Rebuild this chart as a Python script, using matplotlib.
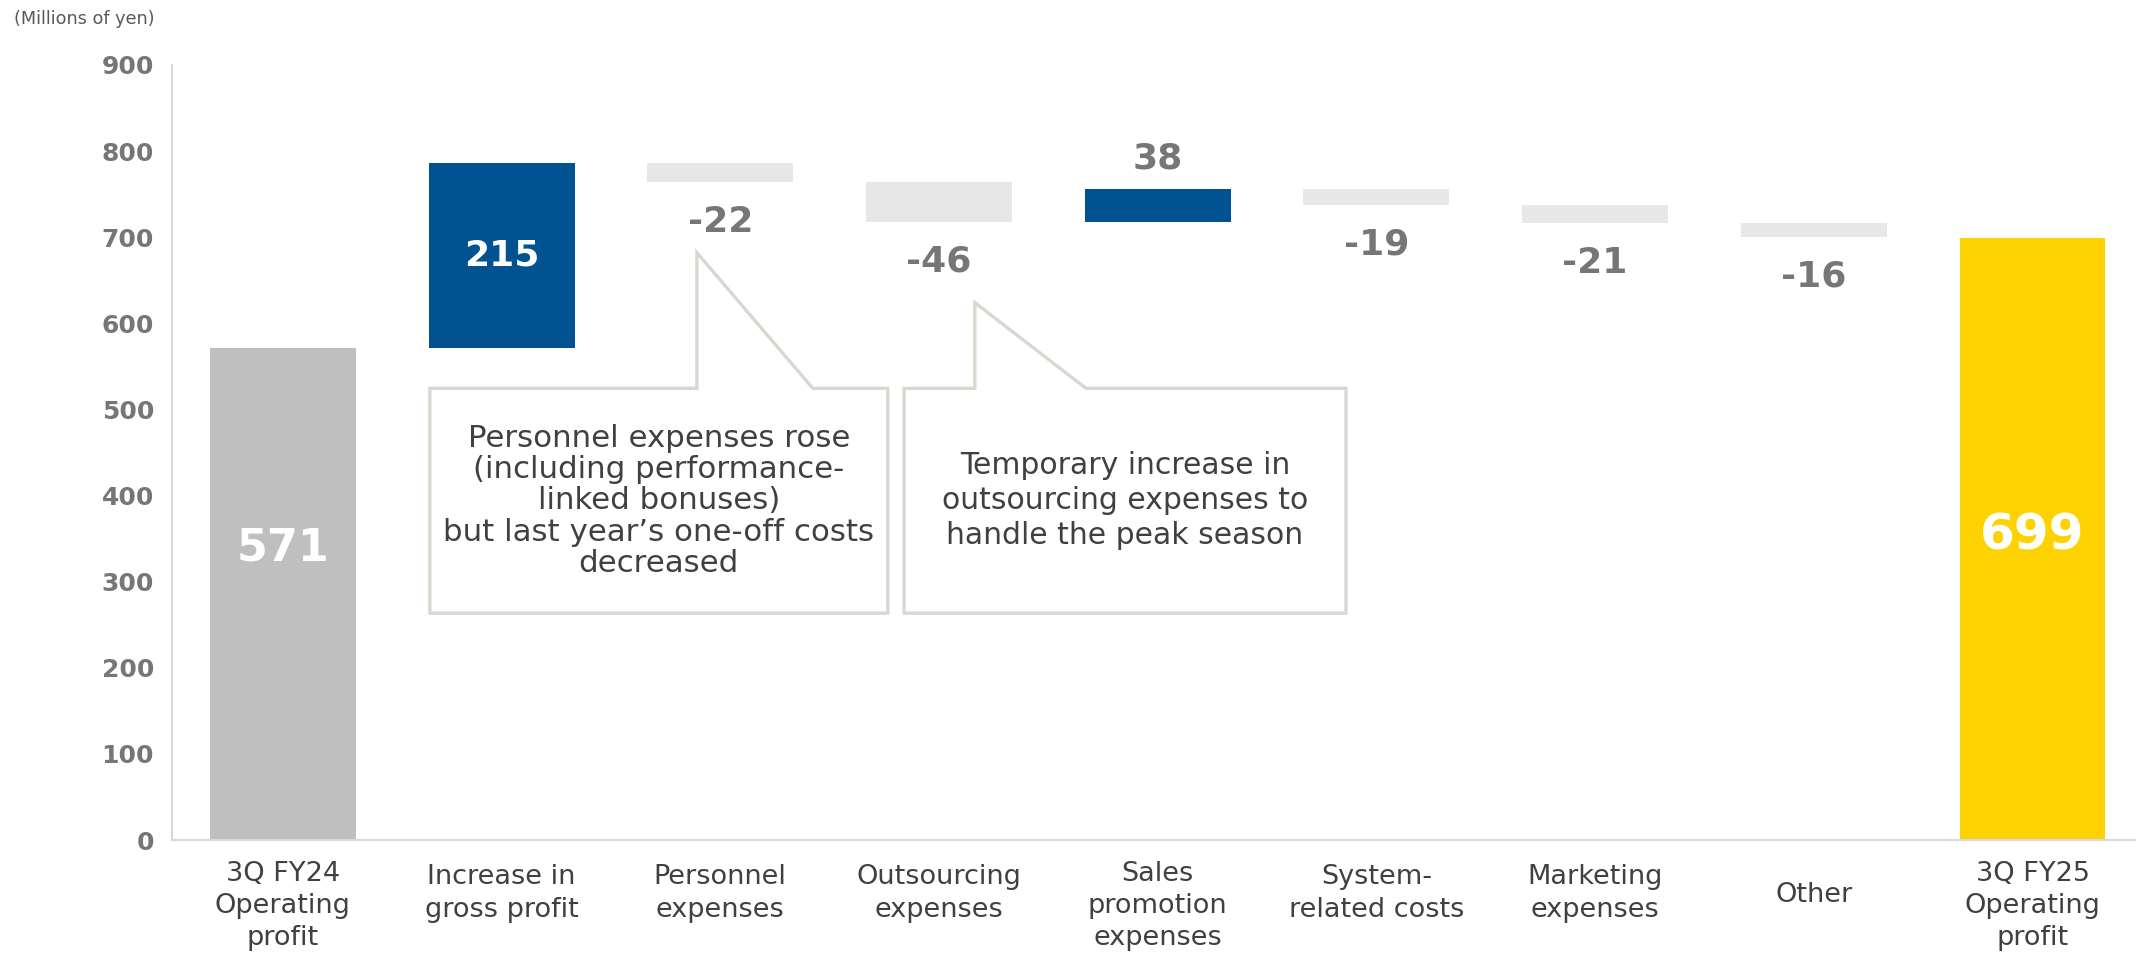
import matplotlib
matplotlib.use("Agg")
import matplotlib.pyplot as plt
from matplotlib.patches import Polygon
import numpy as np

plt.rcParams['font.family'] = ['DejaVu Sans']

# ---- data -------------------------------------------------------------
categories = [
    "3Q FY24\nOperating\nprofit",
    "Increase in\ngross profit",
    "Personnel\nexpenses",
    "Outsourcing\nexpenses",
    "Sales\npromotion\nexpenses",
    "System-\nrelated costs",
    "Marketing\nexpenses",
    "Other",
    "3Q FY25\nOperating\nprofit",
]
start_value = 571
changes = [215, -22, -46, 38, -19, -21, -16]
end_value = 699
yticks = [0, 100, 200, 300, 400, 500, 600, 700, 800, 900]

note_personnel = ("Personnel expenses rose\n(including performance-\nlinked bonuses)\n"
                  "but last year\u2019s one-off costs\ndecreased")
note_outsourcing = ("Temporary increase in\noutsourcing expenses to\nhandle the peak season")

# ---- styles -----------------------------------------------------------
C_START = "#BFBFBF"
C_UP = "#005291"
C_DOWN = "#E7E7E7"
C_END = "#FED200"
C_TICK = "#767676"
C_TEXT = "#404040"
C_AXIS = "#D9D9D9"
C_NOTE = "#DAD7D1"

W, H = 2136, 958
fig = plt.figure(figsize=(W / 100, H / 100), dpi=100)
fig.patch.set_facecolor("white")

ax_left, ax_right, ax_bottom, ax_top = 172, 2136, 840, 65
ax = fig.add_axes([ax_left / W, 1 - ax_bottom / H,
                   (ax_right - ax_left) / W, (ax_bottom - ax_top) / H])

n = len(categories)
x = np.arange(n)
bar_w = 0.667

# waterfall geometry
levels = np.concatenate([[start_value], start_value + np.cumsum(changes)])
bottoms = [0]
heights = [start_value]
colors = [C_START]
for i, d in enumerate(changes):
    prev = levels[i]
    bottoms.append(min(prev, prev + d))
    heights.append(abs(d))
    colors.append(C_UP if d > 0 else C_DOWN)
bottoms.append(0)
heights.append(end_value)
colors.append(C_END)

ax.bar(x, heights, bottom=bottoms, width=bar_w, color=colors, zorder=2)

ax.set_xlim(-0.507, 8.473)
ax.set_ylim(0, 900)

for s in ["top", "right"]:
    ax.spines[s].set_visible(False)
for s in ["left", "bottom"]:
    ax.spines[s].set_color(C_AXIS)
    ax.spines[s].set_linewidth(1.6)

ax.set_yticks(yticks)
ax.set_yticklabels([str(t) for t in yticks], fontsize=18, fontweight="bold", color=C_TICK)
ax.tick_params(axis="y", length=0, pad=13)

# category labels below the axis; taller labels sit a little lower
ax.set_xticks(x)
ax.set_xticklabels([])
ax.tick_params(axis="x", length=0)
label_drop = {1: 39.5, 2: 38.5, 3: 47.5}
for xi, label in zip(x, categories):
    lines = label.count("\n") + 1
    ax.annotate(label, xy=(xi, 0), xycoords=("data", "axes fraction"),
                xytext=(0, -label_drop[lines]), textcoords="offset points",
                ha="center", va="center", multialignment="center",
                fontsize=19.5, color=C_TEXT, linespacing=1.32, annotation_clip=False)

# value labels on the change bars
for i, d in enumerate(changes):
    xi = i + 1
    prev = levels[i]
    if d > 0 and d >= 100:
        ax.text(xi, prev + d / 2, f"{d}", ha="center", va="center",
                fontsize=26, fontweight="bold", color="white", zorder=3)
    elif d > 0:
        ax.annotate(f"{d}", (xi, prev + d), xytext=(0, 22), textcoords="offset points",
                    ha="center", va="center", fontsize=26, fontweight="bold", color=C_TICK)
    else:
        ax.annotate(f"{d}", (xi, prev + d), xytext=(0, -28.5), textcoords="offset points",
                    ha="center", va="center", fontsize=26, fontweight="bold", color=C_TICK)

# totals inside the end bars
ax.text(0, 339, f"{start_value}", ha="center", va="center",
        fontsize=32, fontweight="bold", color="white", zorder=3)
ax.text(n - 1, 354, f"{end_value}", ha="center", va="center",
        fontsize=36, fontweight="bold", color="white", zorder=3)


def callout(x0, x1, y0, y1, tail_x0, tail_x1, tip_y, text, size, spacing):
    pts = [(x0, y1), (tail_x0, y1), (tail_x0, tip_y), (tail_x1, y1),
           (x1, y1), (x1, y0), (x0, y0)]
    ax.add_patch(Polygon(pts, closed=True, facecolor="white", edgecolor=C_NOTE,
                         linewidth=2.4, joinstyle="miter", zorder=4, clip_on=False))
    ax.text((x0 + x1) / 2, (y0 + y1) / 2, text, ha="center", va="center",
            multialignment="center", fontsize=size, color=C_TEXT,
            linespacing=spacing, zorder=5)


callout(0.672, 2.766, 263.5, 524.5, 1.893, 2.423, 682, note_personnel, 22.2, 1.1)
callout(2.840, 4.861, 263.5, 524.5, 3.164, 3.672, 624, note_outsourcing, 21.5, 1.25)

fig.text(14 / W, 1 - 19 / H, "(Millions of yen)", ha="left", va="center",
         fontsize=12.7, color="#595959")

fig.savefig("out.png", dpi=100, facecolor="white")
